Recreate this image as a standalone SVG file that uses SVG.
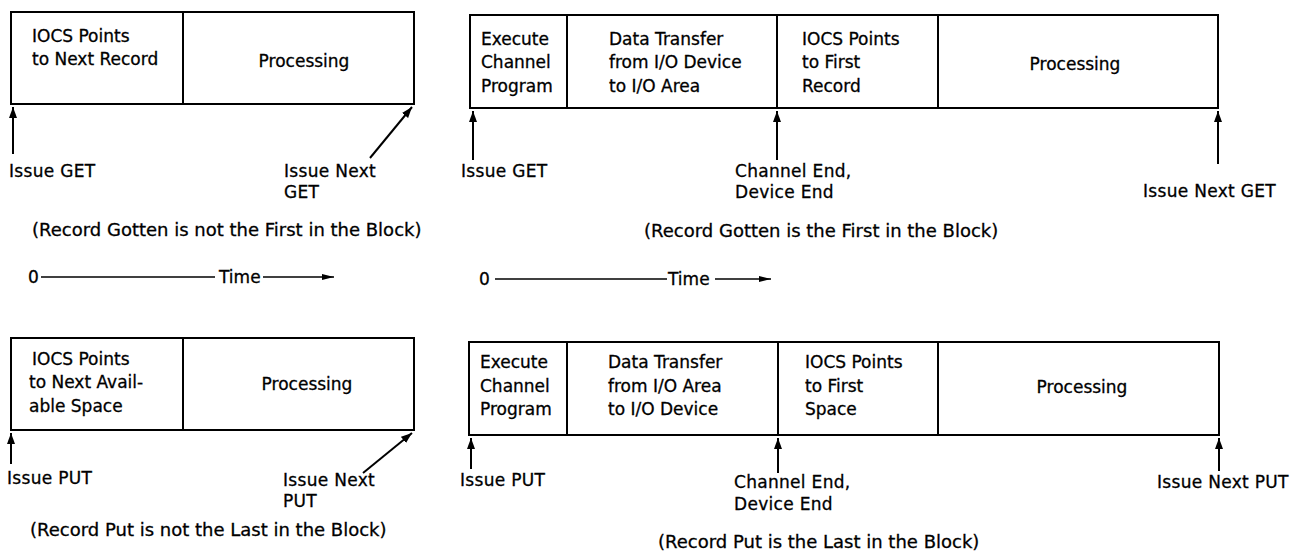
<svg xmlns="http://www.w3.org/2000/svg" width="1297" height="552" viewBox="0 0 1297 552">
  <style>
    .box { fill: #fff; stroke: #000; stroke-width: 2; }
    text { font-family: "DejaVu Sans", "Liberation Sans", sans-serif; fill: #000; stroke: #000; stroke-width: 0.3; }
    .lbl { font-size: 17px; }
    .ann { font-size: 17px; letter-spacing: 0.3px; }
    .cap { font-size: 18px; }
    .mid { text-anchor: middle; }
    .arr { stroke: #000; stroke-width: 2; fill: none; }
    .tl { stroke: #000; stroke-width: 1.6; fill: none; }
  </style>
  <defs>
    <marker id="head" markerUnits="userSpaceOnUse" markerWidth="12" markerHeight="10" refX="11" refY="4" orient="auto">
      <path d="M0,0 L11,4 L0,8 Z" fill="#000"/>
    </marker>
    <marker id="thead" markerUnits="userSpaceOnUse" markerWidth="13" markerHeight="8" refX="12" refY="3" orient="auto">
      <path d="M0,0 L12,3 L0,6 Z" fill="#000"/>
    </marker>
  </defs>

  <rect width="1297" height="552" fill="#fff"/>

  <!-- GET, record not first in block -->
  <g id="get-next-iocs">
    <rect class="box" x="11" y="12" width="172" height="92"/>
    <text class="lbl" x="32" y="42">IOCS Points</text>
    <text class="lbl" x="32" y="65">to Next Record</text>
  </g>
  <g id="get-next-proc">
    <rect class="box" x="183" y="12" width="231" height="92"/>
    <text class="lbl mid" x="304" y="67">Processing</text>
  </g>
  <g id="get-next-notes">
    <text class="ann" x="9" y="177">Issue GET</text>
    <text class="ann" x="284" y="177">Issue Next</text>
    <text class="ann" x="284" y="198">GET</text>
    <text class="cap" x="32" y="236">(Record Gotten is not the First in the Block)</text>
  </g>

  <!-- GET, record first in block -->
  <g id="get-first-exec">
    <rect class="box" x="470" y="15" width="97" height="93"/>
    <text class="lbl" x="481" y="45">Execute</text>
    <text class="lbl" x="481" y="68">Channel</text>
    <text class="lbl" x="481" y="92">Program</text>
  </g>
  <g id="get-first-xfer">
    <rect class="box" x="567" y="15" width="210" height="93"/>
    <text class="lbl" x="609" y="45">Data Transfer</text>
    <text class="lbl" x="609" y="68">from I/O Device</text>
    <text class="lbl" x="609" y="92">to I/O Area</text>
  </g>
  <g id="get-first-iocs">
    <rect class="box" x="777" y="15" width="161" height="93"/>
    <text class="lbl" x="802" y="45">IOCS Points</text>
    <text class="lbl" x="802" y="68">to First</text>
    <text class="lbl" x="802" y="92">Record</text>
  </g>
  <g id="get-first-proc">
    <rect class="box" x="938" y="15" width="280" height="93"/>
    <text class="lbl mid" x="1075" y="70">Processing</text>
  </g>
  <g id="get-first-notes">
    <text class="ann" x="461" y="177">Issue GET</text>
    <text class="ann" x="735" y="177">Channel End,</text>
    <text class="ann" x="735" y="198">Device End</text>
    <text class="ann" x="1143" y="197">Issue Next GET</text>
    <text class="cap" x="644" y="237">(Record Gotten is the First in the Block)</text>
  </g>

  <!-- time scales -->
  <g id="time-left">
    <text class="lbl" x="28" y="283">0</text>
    <text class="lbl" x="219" y="283">Time</text>
  </g>
  <g id="time-right">
    <text class="lbl" x="479" y="285">0</text>
    <text class="lbl" x="668" y="285">Time</text>
  </g>

  <!-- PUT, record not last in block -->
  <g id="put-next-iocs">
    <rect class="box" x="11" y="338" width="172" height="92"/>
    <text class="lbl" x="32" y="365">IOCS Points</text>
    <text class="lbl" x="29" y="388">to Next Avail-</text>
    <text class="lbl" x="29" y="412">able Space</text>
  </g>
  <g id="put-next-proc">
    <rect class="box" x="183" y="338" width="231" height="92"/>
    <text class="lbl mid" x="307" y="390">Processing</text>
  </g>
  <g id="put-next-notes">
    <text class="ann" x="7" y="484">Issue PUT</text>
    <text class="ann" x="283" y="486">Issue Next</text>
    <text class="ann" x="283" y="507">PUT</text>
    <text class="cap" x="30" y="536">(Record Put is not the Last in the Block)</text>
  </g>

  <!-- PUT, record last in block -->
  <g id="put-last-exec">
    <rect class="box" x="469" y="342" width="98" height="93"/>
    <text class="lbl" x="480" y="368">Execute</text>
    <text class="lbl" x="480" y="392">Channel</text>
    <text class="lbl" x="480" y="415">Program</text>
  </g>
  <g id="put-last-xfer">
    <rect class="box" x="567" y="342" width="211" height="93"/>
    <text class="lbl" x="608" y="368">Data Transfer</text>
    <text class="lbl" x="608" y="392">from I/O Area</text>
    <text class="lbl" x="608" y="415">to I/O Device</text>
  </g>
  <g id="put-last-iocs">
    <rect class="box" x="778" y="342" width="160" height="93"/>
    <text class="lbl" x="805" y="368">IOCS Points</text>
    <text class="lbl" x="805" y="392">to First</text>
    <text class="lbl" x="805" y="415">Space</text>
  </g>
  <g id="put-last-proc">
    <rect class="box" x="938" y="342" width="281" height="93"/>
    <text class="lbl mid" x="1082" y="393">Processing</text>
  </g>
  <g id="put-last-notes">
    <text class="ann" x="460" y="486">Issue PUT</text>
    <text class="ann" x="734" y="488">Channel End,</text>
    <text class="ann" x="734" y="510">Device End</text>
    <text class="ann" x="1157" y="488">Issue Next PUT</text>
    <text class="cap" x="658" y="548">(Record Put is the Last in the Block)</text>
  </g>

  <!-- pointers and time axes -->
  <g id="connectors">
    <line class="arr" x1="13" y1="154" x2="13" y2="107" marker-end="url(#head)"/>
    <line class="arr" x1="370" y1="158" x2="412" y2="107" marker-end="url(#head)"/>

    <line class="arr" x1="473" y1="160" x2="473" y2="111" marker-end="url(#head)"/>
    <line class="arr" x1="777" y1="160" x2="777" y2="111" marker-end="url(#head)"/>
    <line class="arr" x1="1218" y1="164" x2="1218" y2="111" marker-end="url(#head)"/>

    <line class="tl" x1="41" y1="277" x2="215" y2="277"/>
    <line class="tl" x1="263" y1="277" x2="334" y2="277" marker-end="url(#thead)"/>
    <line class="tl" x1="495" y1="279" x2="667" y2="279"/>
    <line class="tl" x1="715" y1="279" x2="771" y2="279" marker-end="url(#thead)"/>

    <line class="arr" x1="11" y1="464" x2="11" y2="433" marker-end="url(#head)"/>
    <line class="arr" x1="363" y1="473" x2="412" y2="433" marker-end="url(#head)"/>

    <line class="arr" x1="471" y1="469" x2="471" y2="438" marker-end="url(#head)"/>
    <line class="arr" x1="778" y1="473" x2="778" y2="438" marker-end="url(#head)"/>
    <line class="arr" x1="1219" y1="471" x2="1219" y2="438" marker-end="url(#head)"/>
  </g>
</svg>
